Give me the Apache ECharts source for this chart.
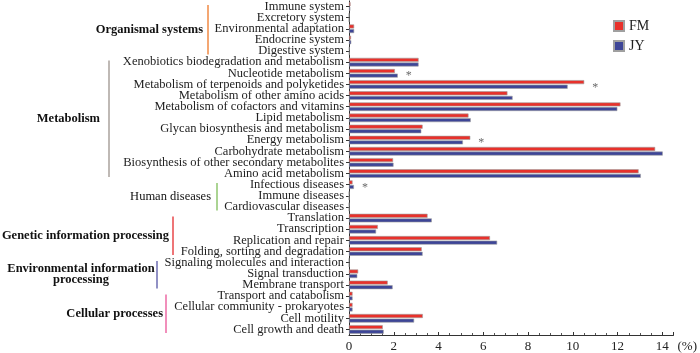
<!DOCTYPE html>
<html>
<head>
<meta charset="utf-8">
<style>
  html, body { margin: 0; padding: 0; background: #fff; }
  #main { width: 700px; height: 353px; }
</style>
<script src="https://cdn.jsdelivr.net/npm/echarts@6/dist/echarts.min.js"></script>
</head>
<body>
<div id="main"></div>
<script>
var categories = [
  'Immune system', 'Excretory system', 'Environmental adaptation', 'Endocrine system', 'Digestive system',
  'Xenobiotics biodegradation and metabolism', 'Nucleotide metabolism', 'Metabolism of terpenoids and polyketides',
  'Metabolism of other amino acids', 'Metabolism of cofactors and vitamins', 'Lipid metabolism',
  'Glycan biosynthesis and metabolism', 'Energy metabolism', 'Carbohydrate metabolism',
  'Biosynthesis of other secondary metabolites', 'Amino acid metabolism',
  'Infectious diseases', 'Immune diseases', 'Cardiovascular diseases',
  'Translation', 'Transcription', 'Replication and repair', 'Folding, sorting and degradation',
  'Signaling molecules and interaction', 'Signal transduction', 'Membrane transport',
  'Transport and catabolism', 'Cellular community - prokaryotes', 'Cell motility', 'Cell growth and death'
]
var fmValues = [0.07, 0, 0.23, 0.09, 0.02, 3.11, 2.05, 10.51, 7.08, 12.13, 5.34, 3.29, 5.42, 13.68, 1.97, 12.94,
  0.16, 0, 0, 3.51, 1.29, 6.30, 3.25, 0, 0.41, 1.73, 0.16, 0.16, 3.30, 1.51]
var jyValues = [0.06, 0, 0.23, 0.10, 0.02, 3.11, 2.18, 9.77, 7.31, 11.99, 5.44, 3.23, 5.09, 14.02, 1.99, 13.04,
  0.22, 0, 0, 3.70, 1.21, 6.62, 3.29, 0, 0.37, 1.95, 0.16, 0.16, 2.91, 1.55]
var starred = ['Nucleotide metabolism', 'Metabolism of terpenoids and polyketides', 'Energy metabolism', 'Infectious diseases']
var xTicks = [0, 2, 4, 6, 8, 10, 12, 14]

var groupNames = ['Organismal systems', 'Metabolism', 'Human diseases', 'Genetic information processing',
  'Environmental information\nprocessing', 'Cellular processes']
var groupFirst = [0, 5, 16, 19, 23, 26]
var groupLast = [4, 15, 18, 22, 25, 29]

// layout of the group brackets on the left (pixels / styles)
var groupStyle = [
  { lineX: 208, labelX: 203, color: '#f08a45', bold: true },
  { lineX: 109, labelX: 100, color: '#aaa29c', bold: true },
  { lineX: 217, labelX: 211, color: '#8fc66f', bold: false },
  { lineX: 173, labelX: 169, color: '#e8474a', bold: true },
  { lineX: 157, labelX: 81, color: '#6c6cb2', bold: true, center: true },
  { lineX: 166, labelX: 163, color: '#ec6aa4', bold: true }
]

var serif = '"Liberation Serif", "Times New Roman", serif'

var starData = []
for (var i = 0; i < categories.length; i++) {
  if (starred.indexOf(categories[i]) >= 0) {
    starData.push([Math.max(fmValues[i], jyValues[i]), categories[i]])
  }
}

var chart = echarts.init(document.getElementById('main'), null, { renderer: 'canvas' })
chart.setOption({
  animation: false,
  textStyle: { fontFamily: serif },
  color: ['#e8312b', '#3d4597'],
  legend: {
    orient: 'vertical',
    left: 608,
    top: 14,
    itemWidth: 10,
    itemHeight: 10,
    itemGap: 6,
    icon: 'rect',
    textStyle: { fontFamily: serif, fontSize: 14, color: '#222' },
    data: ['FM', 'JY']
  },
  grid: { left: 349, right: 20, top: 0, bottom: 18, containLabel: false },
  xAxis: {
    type: 'value',
    min: 0,
    max: 14.5,
    interval: 2,
    name: '(%)',
    nameLocation: 'end',
    nameGap: 4,
    nameTextStyle: { fontFamily: serif, fontSize: 13, color: '#222', verticalAlign: 'top', padding: [5, 0, 0, 0] },
    axisLine: { show: true, lineStyle: { color: '#333', width: 1 } },
    axisTick: { show: true, inside: true, length: 3, lineStyle: { color: '#333' } },
    minorTick: { show: true, splitNumber: 4, length: 2, lineStyle: { color: '#555' } },
    splitLine: { show: false },
    axisLabel: {
      fontFamily: serif, fontSize: 13, color: '#222', margin: 5, showMaxLabel: false,
      formatter: function (v) { return xTicks.indexOf(v) >= 0 ? String(v) : '' }
    }
  },
  yAxis: {
    type: 'category',
    inverse: true,
    data: categories,
    axisLine: { show: true, lineStyle: { color: '#333', width: 1 } },
    axisTick: { show: true, alignWithLabel: true, length: 3, lineStyle: { color: '#333' } },
    axisLabel: { fontFamily: serif, fontSize: 12.5, color: '#222', margin: 5, interval: 0 }
  },
  series: [
    {
      name: 'FM',
      type: 'bar',
      data: fmValues,
      barWidth: 4,
      barGap: '15%',
      itemStyle: { borderColor: '#a0a0a0', borderWidth: 0.6 }
    },
    {
      name: 'JY',
      type: 'bar',
      data: jyValues,
      barWidth: 4,
      itemStyle: { borderColor: '#a0a0a0', borderWidth: 0.6 }
    },
    {
      name: 'sig',
      type: 'scatter',
      data: starData,
      symbolSize: 0,
      silent: true,
      label: {
        show: true,
        position: 'right',
        distance: 8,
        offset: [0, 3],
        formatter: '*',
        fontFamily: serif,
        fontSize: 12,
        color: '#444'
      }
    }
  ]
})

// group brackets and labels, placed on the category positions
var half = chart.convertToPixel({ yAxisIndex: 0 }, categories[1]) - chart.convertToPixel({ yAxisIndex: 0 }, categories[0])
half = half / 2
var graphics = []
for (var g = 0; g < groupNames.length; g++) {
  var y0 = chart.convertToPixel({ yAxisIndex: 0 }, categories[groupFirst[g]])
  var y1 = chart.convertToPixel({ yAxisIndex: 0 }, categories[groupLast[g]])
  var st = groupStyle[g]
  graphics.push({
    type: 'line',
    shape: { x1: st.lineX, y1: y0 - half + 4, x2: st.lineX, y2: y1 + half - 2 },
    style: { stroke: st.color, lineWidth: 1.5 },
    silent: true
  })
  graphics.push({
    type: 'text',
    x: st.labelX,
    y: (y0 + y1) / 2 + 1,
    style: {
      text: groupNames[g],
      font: (st.bold ? 'bold ' : '') + '12.5px ' + serif,
      fill: '#111',
      align: st.center ? 'center' : 'right',
      verticalAlign: 'middle',
      lineHeight: 11
    },
    silent: true
  })
}
chart.setOption({ graphic: graphics })
</script>
</body>
</html>
